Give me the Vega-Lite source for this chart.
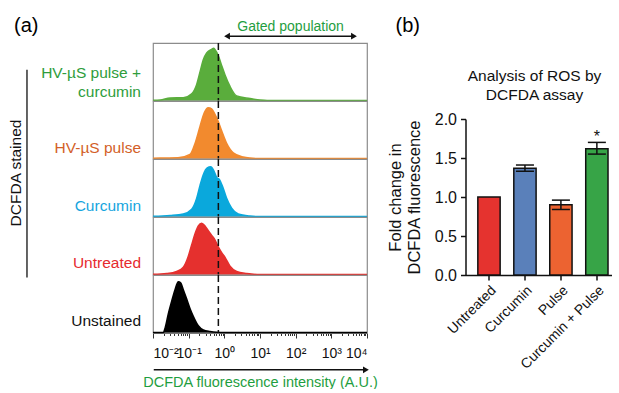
{
  "$schema": "https://vega.github.io/schema/vega-lite/v6.json",
  "padding": {"left": 0, "top": 16, "right": 0, "bottom": 0},
  "config": {"font": "Liberation Sans", "view": {"stroke": "#8c8c8c", "strokeWidth": 1.2}, "axis": {"labelColor": "#111", "titleColor": "#111"}},
  "datasets": {
    "flow": [
      {"kind": "hist", "sample": "HV-µS pulse + curcumin", "intensity": 0.01, "pct": 0.5},
      {"kind": "hist", "sample": "HV-µS pulse + curcumin", "intensity": 0.01585, "pct": 1},
      {"kind": "hist", "sample": "HV-µS pulse + curcumin", "intensity": 0.0302, "pct": 5},
      {"kind": "hist", "sample": "HV-µS pulse + curcumin", "intensity": 0.07079, "pct": 5.5},
      {"kind": "hist", "sample": "HV-µS pulse + curcumin", "intensity": 0.1216, "pct": 13},
      {"kind": "hist", "sample": "HV-µS pulse + curcumin", "intensity": 0.1679, "pct": 31},
      {"kind": "hist", "sample": "HV-µS pulse + curcumin", "intensity": 0.2089, "pct": 55},
      {"kind": "hist", "sample": "HV-µS pulse + curcumin", "intensity": 0.257, "pct": 78},
      {"kind": "hist", "sample": "HV-µS pulse + curcumin", "intensity": 0.3199, "pct": 91},
      {"kind": "hist", "sample": "HV-µS pulse + curcumin", "intensity": 0.4416, "pct": 98},
      {"kind": "hist", "sample": "HV-µS pulse + curcumin", "intensity": 0.5012, "pct": 100},
      {"kind": "hist", "sample": "HV-µS pulse + curcumin", "intensity": 0.5495, "pct": 97},
      {"kind": "hist", "sample": "HV-µS pulse + curcumin", "intensity": 0.6761, "pct": 86},
      {"kind": "hist", "sample": "HV-µS pulse + curcumin", "intensity": 0.8414, "pct": 67},
      {"kind": "hist", "sample": "HV-µS pulse + curcumin", "intensity": 1.047, "pct": 49},
      {"kind": "hist", "sample": "HV-µS pulse + curcumin", "intensity": 1.445, "pct": 27},
      {"kind": "hist", "sample": "HV-µS pulse + curcumin", "intensity": 2.213, "pct": 9},
      {"kind": "hist", "sample": "HV-µS pulse + curcumin", "intensity": 5.248, "pct": 4},
      {"kind": "hist", "sample": "HV-µS pulse + curcumin", "intensity": 10, "pct": 1},
      {"kind": "hist", "sample": "HV-µS pulse + curcumin", "intensity": 15.85, "pct": 0},
      {"kind": "hist", "sample": "HV-µS pulse + curcumin", "intensity": 10000, "pct": 0},
      {"kind": "hist", "sample": "HV-µS pulse", "intensity": 0.01, "pct": 0.5},
      {"kind": "hist", "sample": "HV-µS pulse", "intensity": 0.01585, "pct": 1},
      {"kind": "hist", "sample": "HV-µS pulse", "intensity": 0.0501, "pct": 1.5},
      {"kind": "hist", "sample": "HV-µS pulse", "intensity": 0.1089, "pct": 8},
      {"kind": "hist", "sample": "HV-µS pulse", "intensity": 0.1507, "pct": 29},
      {"kind": "hist", "sample": "HV-µS pulse", "intensity": 0.2089, "pct": 62},
      {"kind": "hist", "sample": "HV-µS pulse", "intensity": 0.2754, "pct": 88},
      {"kind": "hist", "sample": "HV-µS pulse", "intensity": 0.3548, "pct": 97},
      {"kind": "hist", "sample": "HV-µS pulse", "intensity": 0.4416, "pct": 95},
      {"kind": "hist", "sample": "HV-µS pulse", "intensity": 0.5495, "pct": 84},
      {"kind": "hist", "sample": "HV-µS pulse", "intensity": 0.6761, "pct": 71},
      {"kind": "hist", "sample": "HV-µS pulse", "intensity": 0.8414, "pct": 53},
      {"kind": "hist", "sample": "HV-µS pulse", "intensity": 1.161, "pct": 29},
      {"kind": "hist", "sample": "HV-µS pulse", "intensity": 1.778, "pct": 11},
      {"kind": "hist", "sample": "HV-µS pulse", "intensity": 3.388, "pct": 3},
      {"kind": "hist", "sample": "HV-µS pulse", "intensity": 5.248, "pct": 1},
      {"kind": "hist", "sample": "HV-µS pulse", "intensity": 10, "pct": 0},
      {"kind": "hist", "sample": "HV-µS pulse", "intensity": 10000, "pct": 0},
      {"kind": "hist", "sample": "Curcumin", "intensity": 0.01, "pct": 0.5},
      {"kind": "hist", "sample": "Curcumin", "intensity": 0.0302, "pct": 2},
      {"kind": "hist", "sample": "Curcumin", "intensity": 0.07079, "pct": 5},
      {"kind": "hist", "sample": "Curcumin", "intensity": 0.1216, "pct": 14},
      {"kind": "hist", "sample": "Curcumin", "intensity": 0.1679, "pct": 35},
      {"kind": "hist", "sample": "Curcumin", "intensity": 0.2089, "pct": 60},
      {"kind": "hist", "sample": "Curcumin", "intensity": 0.257, "pct": 80},
      {"kind": "hist", "sample": "Curcumin", "intensity": 0.3311, "pct": 93},
      {"kind": "hist", "sample": "Curcumin", "intensity": 0.414, "pct": 95},
      {"kind": "hist", "sample": "Curcumin", "intensity": 0.5129, "pct": 87},
      {"kind": "hist", "sample": "Curcumin", "intensity": 0.6095, "pct": 75},
      {"kind": "hist", "sample": "Curcumin", "intensity": 0.7244, "pct": 71},
      {"kind": "hist", "sample": "Curcumin", "intensity": 0.8995, "pct": 57},
      {"kind": "hist", "sample": "Curcumin", "intensity": 1.161, "pct": 35},
      {"kind": "hist", "sample": "Curcumin", "intensity": 1.603, "pct": 16},
      {"kind": "hist", "sample": "Curcumin", "intensity": 2.455, "pct": 5},
      {"kind": "hist", "sample": "Curcumin", "intensity": 5.248, "pct": 1},
      {"kind": "hist", "sample": "Curcumin", "intensity": 10, "pct": 0},
      {"kind": "hist", "sample": "Curcumin", "intensity": 10000, "pct": 0},
      {"kind": "hist", "sample": "Untreated", "intensity": 0.01, "pct": 0.5},
      {"kind": "hist", "sample": "Untreated", "intensity": 0.02415, "pct": 2},
      {"kind": "hist", "sample": "Untreated", "intensity": 0.04613, "pct": 6},
      {"kind": "hist", "sample": "Untreated", "intensity": 0.07079, "pct": 14},
      {"kind": "hist", "sample": "Untreated", "intensity": 0.09772, "pct": 35},
      {"kind": "hist", "sample": "Untreated", "intensity": 0.1216, "pct": 57},
      {"kind": "hist", "sample": "Untreated", "intensity": 0.1507, "pct": 78},
      {"kind": "hist", "sample": "Untreated", "intensity": 0.1862, "pct": 93},
      {"kind": "hist", "sample": "Untreated", "intensity": 0.2317, "pct": 98},
      {"kind": "hist", "sample": "Untreated", "intensity": 0.2871, "pct": 93},
      {"kind": "hist", "sample": "Untreated", "intensity": 0.3548, "pct": 84},
      {"kind": "hist", "sample": "Untreated", "intensity": 0.4416, "pct": 75},
      {"kind": "hist", "sample": "Untreated", "intensity": 0.5495, "pct": 66},
      {"kind": "hist", "sample": "Untreated", "intensity": 0.6761, "pct": 53},
      {"kind": "hist", "sample": "Untreated", "intensity": 0.8414, "pct": 42},
      {"kind": "hist", "sample": "Untreated", "intensity": 1.047, "pct": 33},
      {"kind": "hist", "sample": "Untreated", "intensity": 1.445, "pct": 16},
      {"kind": "hist", "sample": "Untreated", "intensity": 2.213, "pct": 6},
      {"kind": "hist", "sample": "Untreated", "intensity": 4.266, "pct": 2},
      {"kind": "hist", "sample": "Untreated", "intensity": 10, "pct": 0},
      {"kind": "hist", "sample": "Untreated", "intensity": 10000, "pct": 0},
      {"kind": "hist", "sample": "Unstained", "intensity": 0.01, "pct": 0},
      {"kind": "hist", "sample": "Unstained", "intensity": 0.0195, "pct": 0},
      {"kind": "hist", "sample": "Unstained", "intensity": 0.02188, "pct": 9},
      {"kind": "hist", "sample": "Unstained", "intensity": 0.02692, "pct": 36},
      {"kind": "hist", "sample": "Unstained", "intensity": 0.03342, "pct": 60},
      {"kind": "hist", "sample": "Unstained", "intensity": 0.0414, "pct": 82},
      {"kind": "hist", "sample": "Unstained", "intensity": 0.05129, "pct": 97},
      {"kind": "hist", "sample": "Unstained", "intensity": 0.0597, "pct": 95},
      {"kind": "hist", "sample": "Unstained", "intensity": 0.07079, "pct": 82},
      {"kind": "hist", "sample": "Unstained", "intensity": 0.0881, "pct": 64},
      {"kind": "hist", "sample": "Unstained", "intensity": 0.1089, "pct": 46},
      {"kind": "hist", "sample": "Unstained", "intensity": 0.1349, "pct": 31},
      {"kind": "hist", "sample": "Unstained", "intensity": 0.1862, "pct": 13},
      {"kind": "hist", "sample": "Unstained", "intensity": 0.257, "pct": 5},
      {"kind": "hist", "sample": "Unstained", "intensity": 0.3981, "pct": 2},
      {"kind": "hist", "sample": "Unstained", "intensity": 0.6095, "pct": 0.5},
      {"kind": "hist", "sample": "Unstained", "intensity": 1, "pct": 0},
      {"kind": "hist", "sample": "Unstained", "intensity": 10000, "pct": 0},
      {"kind": "gate", "sample": "HV-µS pulse + curcumin", "gate": 0.68},
      {"kind": "gate", "sample": "HV-µS pulse", "gate": 0.68},
      {"kind": "gate", "sample": "Curcumin", "gate": 0.68},
      {"kind": "gate", "sample": "Untreated", "gate": 0.68},
      {"kind": "gate", "sample": "Unstained", "gate": 0.68},
      {"kind": "gated", "sample": "HV-µS pulse + curcumin", "label": "Gated population", "from": 1.19, "to": 4315},
      {"kind": "axisarrow", "sample": "Unstained"}
    ],
    "labels": [
      {"kind": "label", "sample": "HV-µS pulse + curcumin", "label": "HV-µS pulse +\ncurcumin"},
      {"kind": "label", "sample": "HV-µS pulse", "label": "HV-µS pulse"},
      {"kind": "label", "sample": "Curcumin", "label": "Curcumin"},
      {"kind": "label", "sample": "Untreated", "label": "Untreated"},
      {"kind": "label", "sample": "Unstained", "label": "Unstained"},
      {"kind": "group", "label": "DCFDA stained", "first": "HV-µS pulse + curcumin", "last": "Untreated"}
    ],
    "bars": [
      {"condition": "Untreated", "mean": 1.0, "lo": null, "hi": null, "sig": ""},
      {"condition": "Curcumin", "mean": 1.37, "lo": 1.33, "hi": 1.41, "sig": ""},
      {"condition": "Pulse", "mean": 0.9, "lo": 0.84, "hi": 0.96, "sig": ""},
      {"condition": "Curcumin + Pulse", "mean": 1.62, "lo": 1.55, "hi": 1.7, "sig": "*"}
    ]
  },
  "hconcat": [
    {
      "hconcat": [
        {
          "width": 142,
          "height": 288,
          "view": {"stroke": null},
          "title": {"text": "(a)", "anchor": "start", "frame": "group", "fontSize": 20, "fontWeight": "normal", "dx": 14, "offset": 7},
          "data": {"name": "labels"},
          "encoding": {
            "x": {"datum": 0.993, "type": "quantitative", "scale": {"domain": [0, 1]}, "axis": null}
          },
          "layer": [
            {
              "transform": [{"filter": "datum.kind == 'label' && datum.sample != 'HV-µS pulse + curcumin'"}],
              "mark": {"type": "text", "align": "right", "baseline": "bottom", "fontSize": 15.5, "lineHeight": 19, "dy": -2},
              "encoding": {
                "y": {"field": "sample", "type": "nominal", "bandPosition": 1, "scale": {"domain": ["HV-µS pulse + curcumin", "HV-µS pulse", "Curcumin", "Untreated", "Unstained"], "paddingInner": 0, "paddingOuter": 0}, "axis": null},
                "text": {"field": "label"},
                "color": {"field": "sample", "type": "nominal", "scale": {"domain": ["HV-µS pulse + curcumin", "HV-µS pulse", "Curcumin", "Untreated", "Unstained"], "range": ["#2e9d3c", "#d35f28", "#17a5de", "#e62a2e", "#111111"]}, "legend": null}
              }
            },
            {
              "transform": [{"filter": "datum.kind == 'label' && datum.sample == 'HV-µS pulse + curcumin'"}],
              "mark": {"type": "text", "align": "right", "baseline": "bottom", "fontSize": 15.5, "lineHeight": 19, "lineBreak": "\n", "dy": -20},
              "encoding": {
                "y": {"field": "sample", "type": "nominal", "bandPosition": 1},
                "text": {"field": "label"},
                "color": {"field": "sample", "type": "nominal"}
              }
            },
            {
              "transform": [{"filter": "datum.kind == 'group'"}],
              "mark": {"type": "rule", "strokeWidth": 1.3, "color": "#111", "yOffset": -2, "y2Offset": 33},
              "encoding": {
                "x": {"datum": 0.19, "type": "quantitative"},
                "y": {"field": "first", "type": "nominal"},
                "y2": {"field": "last"}
              }
            },
            {
              "transform": [{"filter": "datum.kind == 'group'"}],
              "mark": {"type": "text", "angle": 270, "fontSize": 15.5, "baseline": "middle", "align": "center", "color": "#111", "yOffset": -14},
              "encoding": {
                "x": {"datum": 0.115, "type": "quantitative"},
                "y": {"datum": "Curcumin", "type": "nominal"},
                "text": {"field": "label"}
              }
            }
          ]
        },
        {
          "data": {"name": "flow"},
          "facet": {"row": {"field": "sample", "type": "nominal", "sort": ["HV-µS pulse + curcumin", "HV-µS pulse", "Curcumin", "Untreated", "Unstained"], "header": null}},
          "spacing": {"row": 0},
          "bounds": "flush",
          "spec": {
            "width": 214,
            "height": 57.6,
            "layer": [
              {
                "transform": [{"filter": "datum.kind == 'hist'"}],
                "mark": {"type": "area", "interpolate": "monotone", "opacity": 1, "line": {"strokeWidth": 1.5}},
                "encoding": {
                  "x": {
                    "field": "intensity", "type": "quantitative",
                    "scale": {"type": "log", "domain": [0.01, 10000], "nice": false},
                    "axis": {
                      "values": [0.01, 0.02, 0.03, 0.04, 0.05, 0.06, 0.07, 0.08, 0.09, 0.1, 0.2, 0.3, 0.4, 0.5, 0.6, 0.7, 0.8, 0.9, 1, 2, 3, 4, 5, 6, 7, 8, 9, 10, 20, 30, 40, 50, 60, 70, 80, 90, 100, 200, 300, 400, 500, 600, 700, 800, 900, 1000, 2000, 3000, 4000, 5000, 6000, 7000, 8000, 9000, 10000],
                      "labelExpr": "datum.value == 0.01 ? '10⁻²' : datum.value == 0.1 ? '10⁻¹' : datum.value == 1 ? '10⁰' : datum.value == 10 ? '10¹' : datum.value == 100 ? '10²' : datum.value == 1000 ? '10³' : datum.value == 10000 ? '10⁴' : ''",
                      "labelFlush": true,
                      "labelOverlap": false,
                      "labelFontSize": 14,
                      "labelPadding": 8,
                      "tickSize": {"condition": {"test": "indexof([0.01, 0.1, 1, 10, 100, 1000, 10000], datum.value) >= 0", "value": 5}, "value": 2.5},
                      "tickColor": "#333",
                      "tickWidth": 1,
                      "domainColor": "#666",
                      "grid": false,
                      "title": "DCFDA fluorescence intensity (A.U.)",
                      "titleColor": "#1f9e3f",
                      "titleFontSize": 14.5,
                      "titleFontWeight": "normal",
                      "titlePadding": 15
                    }
                  },
                  "y": {"field": "pct", "type": "quantitative", "scale": {"domain": [0, 105]}, "axis": null},
                  "color": {"field": "sample", "type": "nominal", "scale": {"domain": ["HV-µS pulse + curcumin", "HV-µS pulse", "Curcumin", "Untreated", "Unstained"], "range": ["#5aad3c", "#f28a2e", "#0aa8dc", "#e5302e", "#000000"]}, "legend": null}
                }
              },
              {
                "transform": [{"filter": "datum.kind == 'gate'"}],
                "mark": {"type": "rule", "strokeDash": [7, 4], "strokeWidth": 1.5, "color": "#111"},
                "encoding": {"x": {"field": "gate", "type": "quantitative"}}
              },
              {
                "transform": [{"filter": "datum.kind == 'gated'"}],
                "mark": {"type": "rule", "strokeWidth": 1.5, "color": "#111"},
                "encoding": {
                  "x": {"field": "from", "type": "quantitative"},
                  "x2": {"field": "to"},
                  "y": {"datum": 123, "type": "quantitative"}
                }
              },
              {
                "transform": [{"filter": "datum.kind == 'gated'"}],
                "mark": {"type": "point", "shape": "triangle-left", "filled": true, "size": 45, "color": "#111", "opacity": 1},
                "encoding": {
                  "x": {"field": "from", "type": "quantitative"},
                  "y": {"datum": 123, "type": "quantitative"}
                }
              },
              {
                "transform": [{"filter": "datum.kind == 'gated'"}],
                "mark": {"type": "point", "shape": "triangle-right", "filled": true, "size": 45, "color": "#111", "opacity": 1},
                "encoding": {
                  "x": {"field": "to", "type": "quantitative"},
                  "y": {"datum": 123, "type": "quantitative"}
                }
              },
              {
                "transform": [{"filter": "datum.kind == 'gated'"}],
                "mark": {"type": "text", "fontSize": 14, "color": "#1f9e3f", "baseline": "middle", "align": "center"},
                "encoding": {
                  "x": {"datum": 72, "type": "quantitative"},
                  "y": {"datum": 141, "type": "quantitative"},
                  "text": {"field": "label"}
                }
              },
              {
                "transform": [{"filter": "datum.kind == 'axisarrow'"}],
                "mark": {"type": "rule", "strokeWidth": 1.5, "color": "#111"},
                "encoding": {
                  "x": {"datum": 0.0105, "type": "quantitative"},
                  "x2": {"datum": 9330},
                  "y": {"datum": -71, "type": "quantitative"}
                }
              },
              {
                "transform": [{"filter": "datum.kind == 'axisarrow'"}],
                "mark": {"type": "point", "shape": "triangle-right", "filled": true, "size": 45, "color": "#111", "opacity": 1},
                "encoding": {
                  "x": {"datum": 9330, "type": "quantitative"},
                  "y": {"datum": -71, "type": "quantitative"}
                }
              }
            ]
          }
        }
      ],
      "spacing": 0,
      "resolve": {"scale": {"color": "independent"}}
    },
    {
      "vconcat": [
        {
          "width": 146,
          "height": 68,
          "view": {"stroke": null},
          "title": {"text": "(b)", "anchor": "start", "frame": "group", "fontSize": 20, "fontWeight": "normal", "dx": -70, "offset": 7},
          "data": {"values": [{"heading": "Analysis of ROS by\nDCFDA assay"}]},
          "mark": {"type": "text", "fontSize": 15.5, "lineHeight": 19, "lineBreak": "\n", "baseline": "middle", "align": "center", "color": "#111", "dx": -4, "dy": -1.5},
          "encoding": {"text": {"field": "heading"}}
        },
        {
          "width": 146,
          "height": 156,
          "view": {"stroke": null},
          "data": {"name": "bars"},
          "encoding": {
            "x": {
              "field": "condition", "type": "nominal",
              "sort": ["Untreated", "Curcumin", "Pulse", "Curcumin + Pulse"],
              "scale": {"paddingInner": 0.38, "paddingOuter": 0.22, "align": 0.78},
              "axis": {"labelAngle": -45, "labelFontSize": 14, "labelPadding": 3, "tickSize": 5, "tickWidth": 1.5, "tickColor": "#111", "domainColor": "#111", "domainWidth": 1.5, "title": null}
            }
          },
          "layer": [
            {
              "mark": {"type": "bar", "stroke": "#111", "strokeWidth": 1.5},
              "encoding": {
                "y": {
                  "field": "mean", "type": "quantitative",
                  "scale": {"domain": [0, 2]},
                  "axis": {"values": [0, 0.5, 1, 1.5, 2], "tickCount": 5, "format": ".1f", "labelOverlap": false, "labelFontSize": 16, "labelPadding": 4, "tickSize": 5, "tickWidth": 1.5, "tickColor": "#111", "domainColor": "#111", "domainWidth": 1.5, "grid": false, "title": ["Fold change in", "DCFDA fluorescence"], "titleFontSize": 16.5, "titleFontWeight": "normal", "titlePadding": 12, "titleLineHeight": 19}
                },
                "color": {"field": "condition", "type": "nominal", "scale": {"domain": ["Untreated", "Curcumin", "Pulse", "Curcumin + Pulse"], "range": ["#e5332f", "#5a80ba", "#ec6331", "#37a447"]}, "legend": null}
              }
            },
            {
              "transform": [{"filter": "datum.lo != null"}],
              "mark": {"type": "rule", "strokeWidth": 1.5, "color": "#111"},
              "encoding": {
                "y": {"field": "lo", "type": "quantitative", "axis": {"values": [0, 0.5, 1, 1.5, 2], "tickCount": 5, "format": ".1f", "labelOverlap": false, "title": ["Fold change in", "DCFDA fluorescence"]}},
                "y2": {"field": "hi"}
              }
            },
            {
              "transform": [{"filter": "datum.lo != null"}],
              "mark": {"type": "tick", "orient": "horizontal", "size": 18, "thickness": 1.5, "color": "#111", "opacity": 1},
              "encoding": {"y": {"field": "lo", "type": "quantitative", "axis": {"values": [0, 0.5, 1, 1.5, 2], "tickCount": 5, "format": ".1f", "labelOverlap": false, "title": ["Fold change in", "DCFDA fluorescence"]}}}
            },
            {
              "transform": [{"filter": "datum.lo != null"}],
              "mark": {"type": "tick", "orient": "horizontal", "size": 18, "thickness": 1.5, "color": "#111", "opacity": 1},
              "encoding": {"y": {"field": "hi", "type": "quantitative", "axis": {"values": [0, 0.5, 1, 1.5, 2], "tickCount": 5, "format": ".1f", "labelOverlap": false, "title": ["Fold change in", "DCFDA fluorescence"]}}}
            },
            {
              "transform": [{"filter": "datum.sig != ''"}],
              "mark": {"type": "text", "fontSize": 16, "baseline": "alphabetic", "color": "#111"},
              "encoding": {"y": {"field": "hi", "type": "quantitative", "axis": {"values": [0, 0.5, 1, 1.5, 2], "tickCount": 5, "format": ".1f", "labelOverlap": false, "title": ["Fold change in", "DCFDA fluorescence"]}}, "text": {"field": "sig"}}
            }
          ]
        }
      ],
      "spacing": 0
    }
  ],
  "spacing": 8.5,
  "resolve": {"scale": {"color": "independent"}}
}
